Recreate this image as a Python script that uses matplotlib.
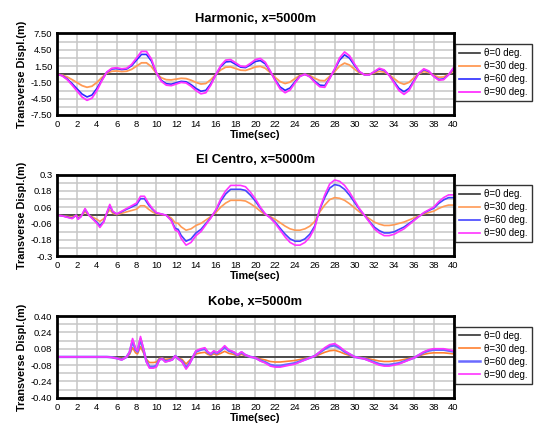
import matplotlib
matplotlib.use('Agg')
import matplotlib.pyplot as plt
import numpy as np
from matplotlib.ticker import MultipleLocator

plt.rcParams['font.family'] = ['Liberation Sans', 'DejaVu Sans']

labels = ['θ=0 deg.', 'θ=30 deg.', 'θ=60 deg.', 'θ=90 deg.']

# ---- Harmonic ----
t_harm = np.arange(0, 40.5, 0.5)
harm_90 = [0, -0.3, -1.0, -2.0, -3.1, -4.2, -4.8, -4.4, -3.0, -1.2,
           0.4, 1.1, 1.2, 1.0, 1.1, 1.8, 3.0, 4.2, 4.2, 2.8,
           0.3, -1.3, -2.0, -2.1, -1.8, -1.5, -1.6, -2.2, -3.0, -3.6,
           -3.4, -2.0, -0.1, 1.6, 2.6, 2.7, 2.1, 1.5, 1.4, 2.0,
           2.7, 2.9, 2.2, 0.6, -1.2, -2.7, -3.4, -2.9, -1.6, -0.4,
           0.0, -0.5, -1.5, -2.3, -2.4, -0.8, 1.0, 3.0, 4.1, 3.4,
           1.9, 0.5, -0.1, -0.1, 0.5, 1.1, 0.8, -0.2, -1.6, -3.0,
           -3.7, -3.0, -1.4, 0.2, 1.0, 0.6, -0.4, -1.1, -1.0, -0.1,
           1.2]
harm_60 = [0, -0.26, -0.87, -1.74, -2.70, -3.65, -4.18, -3.83, -2.61, -1.04,
           0.35, 0.96, 1.04, 0.87, 0.96, 1.57, 2.61, 3.65, 3.65, 2.44,
           0.26, -1.13, -1.74, -1.83, -1.57, -1.31, -1.39, -1.91, -2.61, -3.13,
           -2.96, -1.74, -0.09, 1.39, 2.26, 2.35, 1.83, 1.31, 1.22, 1.74,
           2.35, 2.52, 1.91, 0.52, -1.04, -2.35, -2.96, -2.52, -1.39, -0.35,
           0.0, -0.44, -1.31, -2.00, -2.09, -0.70, 0.87, 2.61, 3.57, 2.96,
           1.65, 0.44, -0.09, -0.09, 0.44, 0.96, 0.70, -0.17, -1.39, -2.61,
           -3.22, -2.61, -1.22, 0.17, 0.87, 0.52, -0.35, -0.96, -0.87, -0.09,
           1.04]
harm_30 = [0, -0.15, -0.5, -1.0, -1.55, -2.1, -2.4, -2.2, -1.5, -0.6,
           0.2, 0.55, 0.6, 0.5, 0.55, 0.9, 1.5, 2.1, 2.1, 1.4,
           0.15, -0.65, -1.0, -1.05, -0.9, -0.75, -0.8, -1.1, -1.5, -1.8,
           -1.7, -1.0, -0.05, 0.8, 1.3, 1.35, 1.05, 0.75, 0.7, 1.0,
           1.35, 1.45, 1.1, 0.3, -0.6, -1.35, -1.7, -1.45, -0.8, -0.2,
           0.0, -0.25, -0.75, -1.15, -1.2, -0.4, 0.5, 1.5, 2.05, 1.7,
           0.95, 0.25, -0.05, -0.05, 0.25, 0.55, 0.4, -0.1, -0.8, -1.5,
           -1.85, -1.5, -0.7, 0.1, 0.5, 0.3, -0.2, -0.55, -0.5, -0.05,
           0.6]
harm_yticks = [7.5, 4.5, 1.5, -1.5, -4.5, -7.5]
harm_yticklabels = ['7.50', '4.50', '1.50', '-1.50', '-4.50', '-7.50']

# ---- El Centro ----
t_elc = [0, 0.5, 1, 1.5, 1.9, 2.1, 2.4, 2.8, 3.2, 3.6,
         4.0, 4.3, 4.7, 5.0, 5.3, 5.6, 6, 6.5, 7, 7.5,
         8, 8.4, 8.8, 9.2, 9.6, 10, 10.5, 11, 11.5, 11.9,
         12.2, 12.5, 13, 13.5, 14, 14.5, 15, 15.5, 16, 16.5,
         17, 17.5, 18, 18.5, 19, 19.5, 20, 20.5, 21, 21.5,
         22, 22.5, 23, 23.5, 24, 24.5, 25, 25.5, 26, 26.5,
         27, 27.5, 28, 28.5, 29, 29.5, 30, 30.5, 31, 31.5,
         32, 32.5, 33, 33.5, 34, 34.5, 35, 35.5, 36, 36.5,
         37, 37.5, 38, 38.5, 39, 39.5, 40]
elc_90 = [0.0, -0.005, -0.015, -0.025, 0.0, -0.03, -0.01, 0.05, 0.0, -0.03,
          -0.06, -0.09, -0.05, 0.02, 0.08, 0.03, 0.01, 0.03, 0.05, 0.07,
          0.09, 0.14, 0.14, 0.09, 0.05, 0.02, 0.01, 0.0, -0.04, -0.11,
          -0.12, -0.17, -0.22, -0.2, -0.15, -0.12, -0.07, -0.02, 0.04, 0.12,
          0.18, 0.22, 0.22, 0.22, 0.21, 0.17, 0.12, 0.06, 0.01, -0.02,
          -0.06, -0.11, -0.16, -0.2, -0.22, -0.22, -0.2, -0.16, -0.09, 0.05,
          0.15, 0.23, 0.26, 0.25, 0.22, 0.17, 0.11, 0.05, 0.0, -0.05,
          -0.1, -0.13, -0.15, -0.15, -0.14, -0.12, -0.1, -0.07, -0.04, -0.01,
          0.02, 0.04, 0.06, 0.1, 0.13, 0.15, 0.15]
elc_60 = [0.0, -0.004, -0.013, -0.022, 0.0, -0.026, -0.009, 0.044, 0.0, -0.026,
          -0.052, -0.078, -0.044, 0.017, 0.07, 0.026, 0.009, 0.026, 0.044, 0.061,
          0.078, 0.122, 0.122, 0.078, 0.044, 0.017, 0.009, 0.0, -0.035, -0.096,
          -0.104, -0.148, -0.191, -0.174, -0.13, -0.104, -0.061, -0.017, 0.035, 0.104,
          0.157, 0.191, 0.191, 0.191, 0.183, 0.148, 0.104, 0.052, 0.009, -0.017,
          -0.052, -0.096, -0.139, -0.174, -0.191, -0.191, -0.174, -0.139, -0.078, 0.044,
          0.13, 0.2, 0.226, 0.218, 0.191, 0.148, 0.096, 0.044, 0.0, -0.044,
          -0.087, -0.113, -0.13, -0.13, -0.122, -0.104, -0.087, -0.061, -0.035, -0.009,
          0.017, 0.035, 0.052, 0.087, 0.113, 0.13, 0.13]
elc_30 = [0.0, -0.003, -0.008, -0.013, 0.0, -0.015, -0.005, 0.025, 0.0, -0.015,
          -0.03, -0.045, -0.025, 0.01, 0.04, 0.015, 0.005, 0.015, 0.025, 0.035,
          0.045, 0.07, 0.07, 0.045, 0.025, 0.01, 0.005, 0.0, -0.02, -0.055,
          -0.06, -0.085, -0.11, -0.1, -0.075, -0.06, -0.035, -0.01, 0.02, 0.06,
          0.09, 0.11, 0.11, 0.11, 0.105, 0.085, 0.06, 0.03, 0.005, -0.01,
          -0.03, -0.055, -0.08, -0.1, -0.11, -0.11, -0.1, -0.08, -0.045, 0.025,
          0.075, 0.115, 0.13, 0.125, 0.11, 0.085, 0.055, 0.025, 0.0, -0.025,
          -0.05, -0.065, -0.075, -0.075, -0.07, -0.06, -0.05, -0.035, -0.02, -0.005,
          0.01, 0.02, 0.03, 0.05, 0.065, 0.075, 0.075]
elc_yticks = [0.3, 0.18, 0.06, -0.06, -0.18, -0.3]
elc_yticklabels = ['0.3', '0.18', '0.06', '-0.06', '-0.18', '-0.3']

# ---- Kobe ----
t_kobe = [0, 5, 5.5, 6, 6.5, 7, 7.3, 7.6, 7.9, 8.1,
          8.4, 8.7, 9.0, 9.3, 9.7, 10.0, 10.3, 10.6, 10.9, 11.3,
          11.6, 11.9, 12.2, 12.6, 13.0, 13.3, 13.6, 14.0, 14.5, 14.9,
          15.2, 15.5, 15.8, 16.1, 16.5, 16.9, 17.3, 17.8, 18.2, 18.6,
          19.0, 19.5, 20, 20.5, 21, 21.5, 22, 22.5, 23, 23.5,
          24, 24.5, 25, 25.5, 26, 26.5, 27, 27.5, 28, 28.5,
          29, 29.5, 30, 30.5, 31, 31.5, 32, 32.5, 33, 33.5,
          34, 34.5, 35, 35.5, 36, 36.5, 37, 37.5, 38, 38.5,
          39, 39.5, 40]
kobe_90 = [0, 0, -0.005, -0.015, -0.03, 0.0, 0.05, 0.18, 0.08, 0.06,
           0.2, 0.08, -0.05, -0.11, -0.11, -0.1, -0.03, -0.02, -0.05, -0.04,
           -0.03, 0.01, -0.02, -0.05, -0.12, -0.08, -0.02, 0.06, 0.08, 0.09,
           0.05, 0.03, 0.06, 0.04, 0.07, 0.11, 0.07, 0.05, 0.02, 0.05,
           0.02, 0.0, -0.01, -0.04, -0.06, -0.09, -0.1, -0.1, -0.09, -0.08,
           -0.07, -0.05, -0.03, -0.01, 0.01, 0.05, 0.09, 0.12, 0.13, 0.1,
           0.06, 0.03, 0.0, -0.01, -0.02, -0.04, -0.06, -0.08, -0.09, -0.09,
           -0.08, -0.07, -0.05, -0.03, -0.01, 0.02, 0.05, 0.07, 0.08, 0.08,
           0.08, 0.07, 0.06]
kobe_60 = [0, 0, -0.004, -0.013, -0.026, 0.0, 0.044, 0.157, 0.07, 0.052,
           0.174, 0.07, -0.044, -0.096, -0.096, -0.087, -0.026, -0.017, -0.044, -0.035,
           -0.026, 0.009, -0.017, -0.044, -0.104, -0.07, -0.017, 0.052, 0.07, 0.078,
           0.044, 0.026, 0.052, 0.035, 0.061, 0.096, 0.061, 0.044, 0.017, 0.044,
           0.017, 0.0, -0.009, -0.035, -0.052, -0.078, -0.087, -0.087, -0.078, -0.07,
           -0.061, -0.044, -0.026, -0.009, 0.009, 0.044, 0.078, 0.104, 0.113, 0.087,
           0.052, 0.026, 0.0, -0.009, -0.017, -0.035, -0.052, -0.07, -0.078, -0.078,
           -0.07, -0.061, -0.044, -0.026, -0.009, 0.017, 0.044, 0.061, 0.07, 0.07,
           0.07, 0.061, 0.052]
kobe_30 = [0, 0, -0.003, -0.008, -0.015, 0.0, 0.025, 0.09, 0.04, 0.03,
           0.1, 0.04, -0.025, -0.055, -0.055, -0.05, -0.015, -0.01, -0.025, -0.02,
           -0.015, 0.005, -0.01, -0.025, -0.07, -0.04, -0.01, 0.03, 0.04, 0.045,
           0.025, 0.015, 0.03, 0.02, 0.035, 0.055, 0.035, 0.025, 0.01, 0.025,
           0.01, 0.0, -0.005, -0.02, -0.03, -0.045, -0.05, -0.05, -0.045, -0.04,
           -0.035, -0.025, -0.015, -0.005, 0.005, 0.025, 0.045, 0.06, 0.065, 0.05,
           0.03, 0.015, 0.0, -0.005, -0.01, -0.02, -0.03, -0.04, -0.045, -0.045,
           -0.04, -0.035, -0.025, -0.015, -0.005, 0.01, 0.025, 0.035, 0.04, 0.04,
           0.04, 0.035, 0.03]
kobe_yticks = [0.40, 0.24, 0.08, -0.08, -0.24, -0.40]
kobe_yticklabels = ['0.40', '0.24', '0.08', '-0.08', '-0.24', '-0.40']

fig = plt.figure(figsize=(5.39, 4.24), dpi=100)


def draw_panel(rect, title, t, curves, yticks, yticklabels, colors, widths):
    ax = fig.add_axes(rect)
    t = np.asarray(t)
    ax.plot(t, np.zeros_like(t), color='#333333', lw=1.2, label=labels[0])
    for y, c, lw, lab in zip(curves, colors, widths, labels[1:]):
        ax.plot(t, y, color=c, lw=lw, label=lab)
    ax.set_xlim(0, 40)
    ax.set_ylim(yticks[-1], yticks[0])
    ax.set_xticks(np.arange(0, 41, 2))
    ax.set_yticks(yticks)
    ax.set_yticklabels(yticklabels)
    step = abs(yticks[0] - yticks[1])
    ax.yaxis.set_minor_locator(MultipleLocator(step / 2))
    ax.set_axisbelow(True)
    ax.grid(which='both', color='#c6c6c6', lw=1.1)
    ax.tick_params(which='both', length=0, labelsize=6.8, pad=3.5)
    for sp in ax.spines.values():
        sp.set_linewidth(2)
        sp.set_color('black')
    ax.set_title(title, fontsize=9.3, fontweight='bold', pad=8)
    ax.set_xlabel('Time(sec)', fontsize=7.8, fontweight='bold', labelpad=1)
    ax.set_ylabel('Transverse Displ.(m)', fontsize=7.8, fontweight='bold', labelpad=3)
    leg = ax.legend(loc='center left', bbox_to_anchor=(1.004, 0.52), fontsize=7,
                    frameon=True, fancybox=False, edgecolor='black',
                    handlelength=2.1, handletextpad=0.4, labelspacing=0.3,
                    borderpad=0.45, borderaxespad=0)
    leg.get_frame().set_linewidth(1)
    return ax


draw_panel([0.1063, 0.7288, 0.7351, 0.1922], 'Harmonic, x=5000m', t_harm,
           [harm_30, harm_60, harm_90], harm_yticks, harm_yticklabels,
           ['#ff9a55', '#2b2bff', '#ff33ff'], [1.3, 1.2, 1.3])
draw_panel([0.1063, 0.3962, 0.7351, 0.1922], 'El Centro, x=5000m', t_elc,
           [elc_30, elc_60, elc_90], elc_yticks, elc_yticklabels,
           ['#ff9a55', '#4444ff', '#ff33ff'], [1.2, 1.2, 1.2])
draw_panel([0.1063, 0.0618, 0.7351, 0.1929], 'Kobe, x=5000m', t_kobe,
           [kobe_30, kobe_60, kobe_90], kobe_yticks, kobe_yticklabels,
           ['#ff8030', '#6a6aff', '#ff33ff'], [1.2, 1.8, 1.2])

fig.savefig('out.png', dpi=100)
